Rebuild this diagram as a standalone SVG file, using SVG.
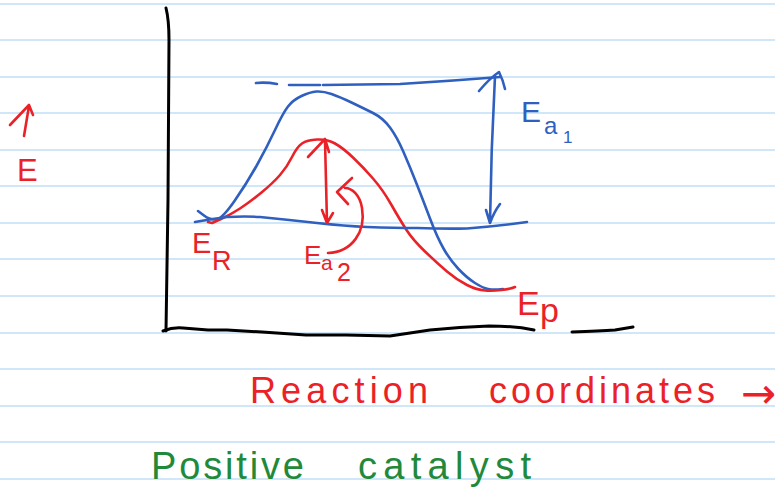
<svg xmlns="http://www.w3.org/2000/svg" width="775" height="499" viewBox="0 0 775 499">
<style>
  .rule{stroke:#cfe7f8;stroke-width:2;fill:none}
  .ink{fill:none;stroke-linecap:round;stroke-linejoin:round}
  .blk{stroke:#000;stroke-width:3}
  .blu{stroke:#3060bf;stroke-width:2.6}
  .red{stroke:#ea2228;stroke-width:2.6}
  .t{font-family:"Liberation Sans","DejaVu Sans",sans-serif}
  .tr{fill:#ea2228}
  .tb{fill:#3060bf}
  .tg{fill:#22893a}
</style>
<rect width="775" height="499" fill="#fff"/>
<g id="ruled-paper">
  <line class="rule" x1="0" y1="4" x2="775" y2="4"/>
  <line class="rule" x1="0" y1="40" x2="775" y2="40"/>
  <line class="rule" x1="0" y1="77" x2="775" y2="77"/>
  <line class="rule" x1="0" y1="113" x2="775" y2="113"/>
  <line class="rule" x1="0" y1="150" x2="775" y2="150"/>
  <line class="rule" x1="0" y1="186" x2="775" y2="186"/>
  <line class="rule" x1="0" y1="223" x2="775" y2="223"/>
  <line class="rule" x1="0" y1="259" x2="775" y2="259"/>
  <line class="rule" x1="0" y1="296" x2="775" y2="296"/>
  <line class="rule" x1="0" y1="333" x2="775" y2="333"/>
  <line class="rule" x1="0" y1="369" x2="775" y2="369"/>
  <line class="rule" x1="0" y1="406" x2="775" y2="406"/>
  <line class="rule" x1="0" y1="442" x2="775" y2="442"/>
  <line class="rule" x1="0" y1="479" x2="775" y2="479"/>
</g>
<g id="axes">
  <path class="ink blk" d="M166,8 Q169,20 169,40 L168,200 L166,331"/>
  <path class="ink blk" d="M163,331 Q173,327 183,328 L208,330 L227,330 Q245,331 262,332 L306,335 L346,335 L390,336 Q410,333 430,330 Q460,327 489,326 Q515,326 534,330"/>
  <path class="ink blk" d="M572,332 Q600,331 615,330 L633,327"/>
</g>
<g id="uncatalysed-curve">
  <path class="ink blu" d="M198,211 L204,215.5 Q210,220 216,219.5 Q222,219 234.5,201 Q247,183 257,165 Q267,147 275,130 Q283,113 288,106.5 Q293,100 301.5,96 Q310,92 316.5,91.5 Q323,91 331.5,94 Q340,97 351.5,102.5 Q363,108 373,113 Q383,118 390,127.5 Q397,137 403.5,152 Q410,167 416.5,183.5 Q423,200 430,218.5 Q437,237 443.5,248.5 Q450,260 458.5,269 Q467,278 475,283 Q483,288 488,289 Q493,290 498,289.5 L503,289"/>
</g>
<g id="catalysed-curve">
  <path class="ink red" d="M208,222 L212,223 L221,219 Q230,215 240,208.5 Q250,202 261.5,192.5 Q273,183 280,175 Q287,167 292,157 Q297,147 302,143.5 Q307,140 317,139.5 Q327,139 335,143.5 Q343,148 353,157.5 Q363,167 373,178.5 Q383,190 391.5,205 Q400,220 406.5,230 Q413,240 425,251.5 Q437,263 447,271.5 Q457,280 467,285 Q477,290 485,290.5 Q493,291 501.5,290 Q510,289 515,287"/>
</g>
<g id="connectors">
  <path class="ink blu" d="M195,222 Q211,219 227,217 Q245,216 260,217 Q290,220 317,223 Q345,226 367,227 Q395,228 417,228 Q445,229 467,228.5 Q500,226 527,222"/>
  <path class="ink blu" d="M256,83 Q266,82 277,84 M289,85 L320,85 M323,85 L400,84 Q450,81 500,77"/>
  <path class="ink blu" d="M495,76 Q491,150 490,223 M479,91 Q490,78 499,72 Q503,80 505,89 M486,210 L490,223 Q494,212 500,204"/>
  <path class="ink red" d="M325,140 L327,223 M308,157 L325,139 L329,152 M322,210 L327,223 L333,213"/>
  <path class="ink red" d="M328,253 C352,252 366,232 362,208 C360,195 352,188 345,188 M352,178 L337,192 L348,204"/>
  <path class="ink red" d="M24,136 L29,106 M10,125 L29,105 L33,115"/>
</g>
<g id="label-E">
  <text class="t tr" x="17" y="181" font-size="31">E</text>
</g>
<g id="label-Ea1">
  <text class="t tb" x="521" y="122" font-size="30">E</text>
  <text class="t tb" x="544" y="134" font-size="24">a</text>
  <text class="t tb" x="563" y="143" font-size="17">1</text>
</g>
<g id="label-ER">
  <text class="t tr" x="192" y="253" font-size="29">E</text>
  <text class="t tr" x="212" y="270" font-size="27">R</text>
</g>
<g id="label-Ea2">
  <text class="t tr" x="304" y="264" font-size="26">E</text>
  <text class="t tr" x="321" y="270" font-size="21">a</text>
  <text class="t tr" x="337" y="281" font-size="25">2</text>
</g>
<g id="label-EP">
  <text class="t tr" x="517" y="315" font-size="34">E</text>
  <text class="t tr" x="540" y="322" font-size="34">p</text>
</g>
<g id="axis-title">
  <text class="t tr" x="250" y="403" font-size="36" textLength="178" lengthAdjust="spacing">Reaction</text>
  <text class="t tr" x="489" y="403" font-size="36" textLength="226" lengthAdjust="spacing">coordinates</text>
  <text class="tr" x="741" y="408" font-size="42" font-family="DejaVu Sans, sans-serif">→</text>
</g>
<g id="caption">
  <text class="t tg" x="151" y="479" font-size="38" textLength="153" lengthAdjust="spacing">Positive</text>
  <text class="t tg" x="358" y="479" font-size="38" textLength="173" lengthAdjust="spacing">catalyst</text>
</g>
</svg>
